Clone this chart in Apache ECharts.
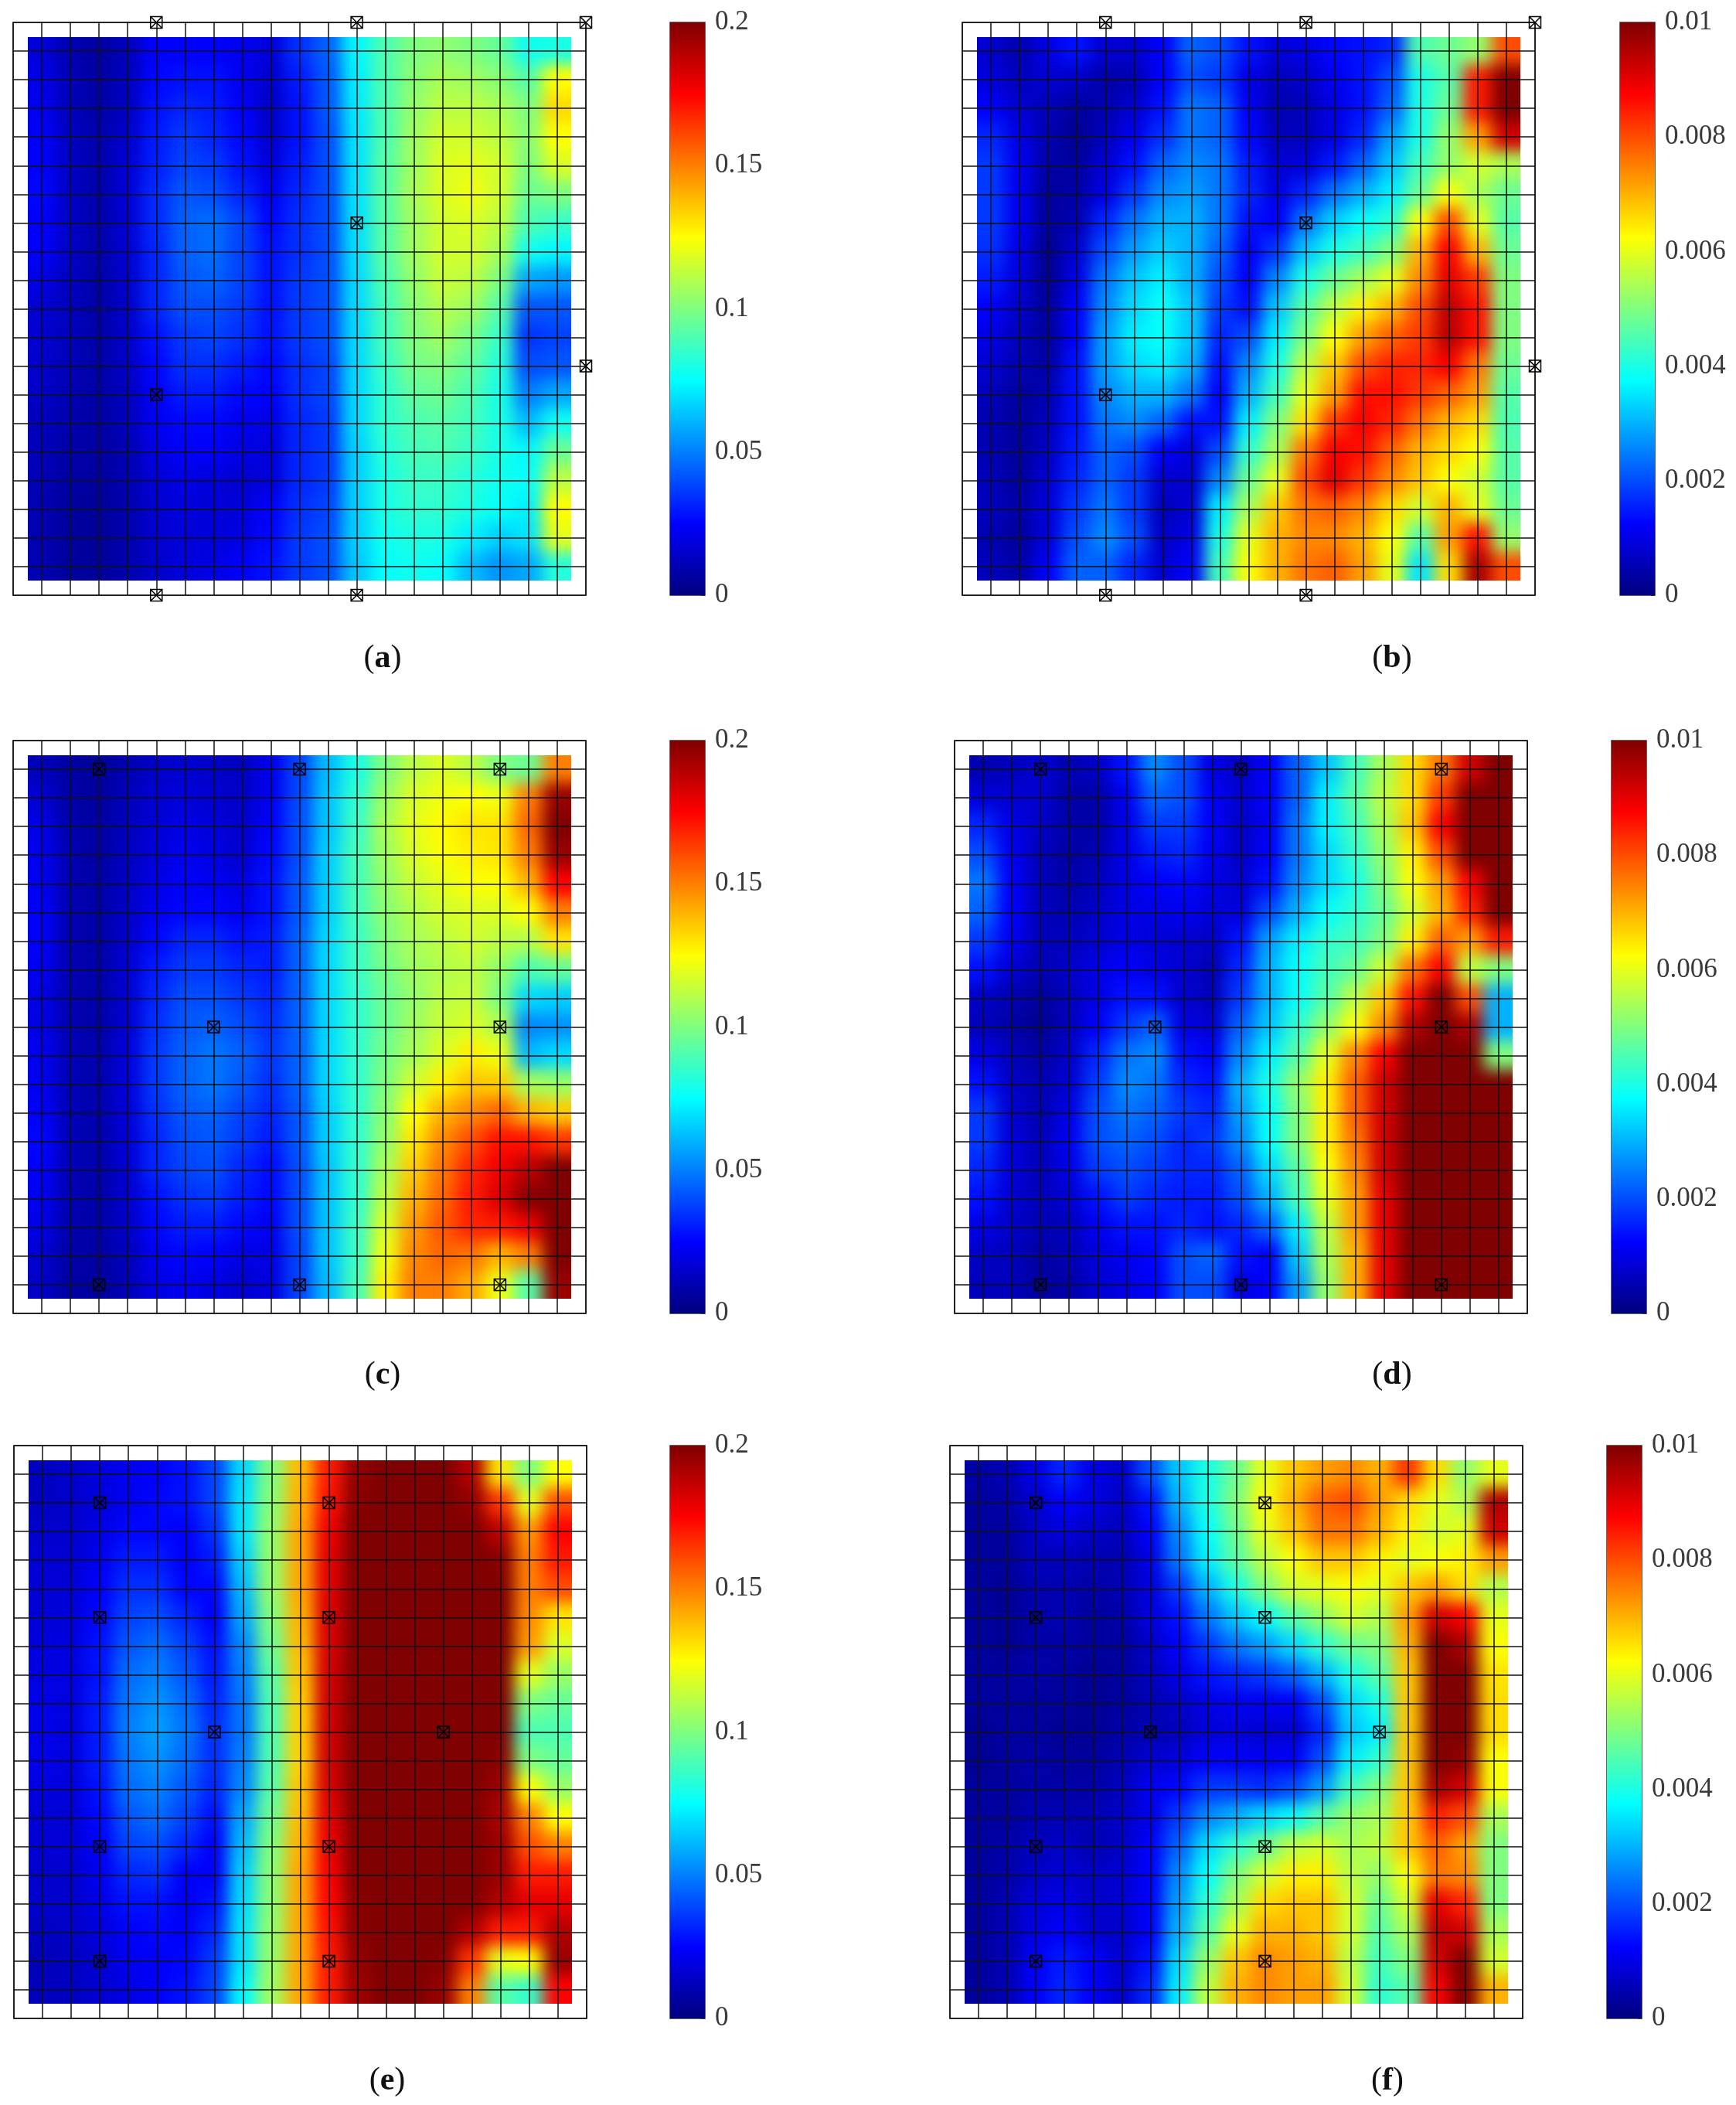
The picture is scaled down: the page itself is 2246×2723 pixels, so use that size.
<!DOCTYPE html>
<html>
<head>
<meta charset="utf-8">
<title>panels</title>
<style>
html,body{margin:0;padding:0;background:#fff;}
#page{position:relative;width:2246px;height:2723px;overflow:hidden;}
.heat{position:absolute;overflow:hidden;}
.heatInner{position:absolute;filter:blur(10px);}
#overlay{position:absolute;left:0;top:0;width:2246px;height:2723px;z-index:2;}
</style>
<script src="https://cdn.jsdelivr.net/npm/echarts@6/dist/echarts.min.js"></script>
</head>
<body>
<div id="page"><div id="overlay"></div></div>
<script>
// a, c, e are in units of 0.001 (colorbar 0..0.2), b, d, f in units of 0.0001 (colorbar 0..0.01)
// one row per mesh line from the top, one value per mesh line from the left
var valuesA = [
[18,10,7,12,25,25,25,22,18,34,44,74,90,100,103,100,95,78,80],
[20,11,7,12,26,28,28,22,15,30,42,72,90,102,108,106,102,92,125],
[22,12,8,13,28,32,30,24,14,28,42,71,90,104,112,112,108,100,132],
[24,13,9,15,30,36,32,26,15,28,40,70,90,106,116,116,112,102,125],
[24,13,9,16,31,38,36,28,18,30,40,70,92,106,118,120,116,100,118],
[26,14,9,17,33,42,40,32,22,32,40,70,92,108,118,122,116,96,100],
[24,14,9,16,33,44,46,38,26,34,40,69,92,106,116,118,112,90,86],
[24,14,9,16,32,44,46,38,28,34,40,69,92,106,116,116,108,78,74],
[20,13,8,15,32,42,44,38,28,36,40,68,90,104,114,112,100,58,55],
[16,12,8,14,32,40,40,36,28,36,40,68,88,102,110,106,92,42,42],
[16,12,8,14,28,36,38,34,28,36,40,68,88,100,106,98,86,35,38],
[15,11,8,14,26,34,34,30,26,34,38,68,86,98,100,94,82,40,42],
[14,10,8,12,24,30,30,26,24,34,38,68,84,94,96,90,80,50,58],
[12,9,7,12,22,26,26,22,20,32,36,68,84,90,92,88,80,62,78],
[12,8,7,10,20,24,24,20,18,32,36,66,82,88,90,86,80,74,96],
[11,7,6,10,17,20,18,16,18,32,36,66,80,86,86,82,78,76,112],
[10,6,5,9,16,18,17,18,24,34,38,66,80,84,84,80,76,72,125],
[10,6,5,9,16,18,18,20,26,36,40,66,78,80,80,72,66,70,120],
[10,6,5,9,15,18,20,24,28,36,40,64,76,78,76,62,54,58,82]
];
var valuesB = [
[8,5,10,14,8,8,12,22,20,14,9,10,13,14,16,45,48,52,80],
[9,6,8,7,4,5,12,20,18,10,6,7,11,14,20,40,46,85,100],
[12,8,6,3,5,8,14,24,22,12,5,6,10,14,22,40,48,85,100],
[16,10,5,2,6,11,17,24,22,13,6,6,10,16,28,40,52,72,92],
[18,11,4,3,8,14,22,26,24,15,8,9,15,22,32,44,52,58,54],
[18,11,3,4,10,18,26,28,24,16,10,16,24,30,36,48,62,54,48],
[18,11,3,5,16,24,30,30,24,14,12,24,33,38,42,62,80,60,46],
[17,10,2,8,20,28,33,30,22,12,18,32,40,44,50,70,88,70,48],
[15,9,2,10,24,32,36,30,20,12,26,40,48,54,60,74,90,82,50],
[12,7,3,12,26,34,38,32,18,14,32,46,56,64,70,80,94,86,50],
[10,6,3,12,28,36,38,32,16,20,36,50,62,72,78,82,94,86,50],
[8,5,4,14,28,34,36,30,14,26,40,56,68,80,84,84,88,76,48],
[6,3,5,14,26,30,30,24,12,30,44,60,72,86,86,82,78,72,46],
[5,3,6,14,24,26,22,14,14,36,50,66,82,88,84,76,70,66,45],
[5,3,7,15,22,20,12,9,20,42,54,76,88,86,78,70,66,62,46],
[6,3,8,16,22,18,8,8,26,48,60,80,90,82,74,68,62,58,46],
[6,4,9,18,24,18,6,8,36,54,68,76,78,74,66,58,70,60,48],
[5,3,9,20,26,20,7,10,40,60,70,74,74,70,62,46,72,86,52],
[6,4,12,22,22,16,8,12,44,62,70,76,78,72,60,35,66,96,80]
];
var valuesC = [
[12,7,5,10,14,16,14,13,21,38,62,80,100,112,118,112,100,96,150],
[16,8,6,12,16,18,16,14,22,39,64,84,105,118,122,125,122,150,195],
[20,9,7,12,17,20,18,15,24,40,64,86,108,120,126,130,130,155,200],
[22,10,7,13,18,22,20,16,26,40,66,88,106,118,124,128,130,150,195],
[22,10,8,13,20,24,22,20,28,42,66,88,104,114,120,124,125,140,175],
[24,10,8,14,22,26,26,22,28,42,66,88,102,110,116,118,118,125,150],
[24,10,8,15,26,32,32,28,30,44,68,86,100,108,112,116,112,110,130],
[22,10,8,16,30,36,36,32,30,44,68,86,98,106,110,112,104,90,95],
[20,10,8,16,32,40,40,36,32,44,68,84,96,104,112,114,100,68,66],
[20,10,8,16,34,42,44,40,34,44,68,84,96,106,114,118,110,52,54],
[22,11,9,18,36,44,48,44,36,44,68,84,98,108,118,128,122,62,68],
[22,11,9,18,36,44,48,42,34,44,68,84,100,116,128,136,135,108,105],
[24,11,9,17,34,42,44,38,32,42,66,84,102,125,140,148,155,140,135],
[26,11,9,17,32,40,42,36,30,42,66,84,104,130,148,160,172,172,165],
[24,11,9,16,32,38,40,32,27,40,64,84,108,135,152,168,178,188,200],
[22,10,8,15,28,34,36,30,26,40,64,84,112,140,155,170,182,198,200],
[20,9,8,14,26,30,30,26,22,40,64,86,118,145,158,168,170,178,200],
[16,8,7,12,22,26,24,20,20,38,64,86,122,148,155,152,140,150,200],
[14,7,6,11,20,22,20,16,19,38,62,88,128,150,150,142,122,92,195]
];
var valuesD = [
[5,6,8,5,7,14,26,20,10,7,12,22,32,44,54,66,76,92,100],
[9,8,8,4,4,11,22,20,12,8,12,22,36,46,56,66,82,100,100],
[16,10,7,4,4,10,18,18,12,7,11,24,36,44,54,68,88,100,100],
[20,11,6,4,5,10,15,16,11,7,12,24,34,42,52,64,80,100,100],
[24,12,6,4,6,10,12,13,10,8,14,26,34,40,50,62,72,88,100],
[22,12,6,5,7,10,10,11,9,9,20,30,38,42,48,58,70,84,100],
[18,11,6,6,8,10,9,8,7,14,28,36,42,44,50,64,78,72,85],
[14,8,5,7,10,12,10,8,5,16,30,38,44,48,58,76,88,56,50],
[7,5,3,6,10,14,14,8,6,18,30,38,46,56,68,86,100,80,30],
[6,4,2,6,12,18,22,10,8,22,32,42,52,62,74,95,100,96,30],
[10,6,4,7,16,24,26,14,12,26,36,46,60,74,88,100,100,100,50],
[14,7,5,8,18,26,24,16,14,30,40,52,64,78,92,100,100,100,100],
[18,8,5,10,20,24,22,18,16,28,38,50,64,78,92,100,100,100,100],
[18,9,6,11,20,22,20,16,18,26,38,50,64,76,92,100,100,100,100],
[16,9,6,10,18,20,18,16,16,22,34,46,62,74,92,100,100,100,100],
[14,8,6,8,14,18,16,15,15,20,30,44,60,72,90,100,100,100,100],
[10,7,5,6,11,14,14,16,14,16,22,36,56,72,90,100,100,100,100],
[7,6,4,5,9,11,13,20,22,14,12,32,54,70,90,100,100,100,100],
[6,6,3,4,8,10,12,20,20,10,12,28,52,70,90,100,100,100,100]
];
var valuesE = [
[13,15,18,22,24,28,38,68,100,138,170,196,200,200,200,190,130,100,125],
[13,15,18,22,26,28,38,70,102,140,172,198,200,200,200,196,165,120,160],
[15,15,20,26,26,24,34,70,104,142,178,200,200,200,200,200,188,145,175],
[17,16,22,30,30,24,30,66,104,142,180,200,200,200,200,200,198,150,170],
[17,17,24,34,34,26,26,62,104,142,180,200,200,200,200,200,200,150,160],
[17,18,26,38,40,32,24,58,100,140,182,200,200,200,200,200,200,148,130],
[19,19,28,42,46,38,28,52,96,138,182,200,200,200,200,200,200,145,118],
[19,19,28,46,50,42,30,50,92,136,184,200,200,200,200,200,200,120,105],
[21,19,30,48,54,46,32,48,90,134,184,200,200,200,200,200,200,100,95],
[21,19,30,50,56,48,34,48,90,134,184,200,200,200,200,200,200,90,90],
[21,19,30,48,54,46,34,50,90,134,184,200,200,200,200,200,198,100,95],
[19,18,28,46,50,42,32,52,92,136,182,200,200,200,200,200,195,125,105],
[17,17,26,42,46,38,28,58,96,138,180,200,200,200,200,200,192,150,125],
[17,17,24,38,40,32,24,62,100,140,178,200,200,200,200,200,195,160,150],
[15,15,22,32,34,24,24,66,102,142,176,200,200,200,200,200,195,170,170],
[15,15,20,28,28,22,28,68,102,142,174,198,200,200,200,200,190,180,180],
[13,14,18,24,26,24,32,70,104,142,172,198,200,200,200,190,170,170,190],
[11,13,16,22,24,26,36,70,104,142,170,196,200,200,198,165,120,125,195],
[12,13,16,20,24,28,38,74,106,142,170,194,200,200,195,150,92,85,175]
];
var valuesF = [
[4,5,10,16,10,8,20,32,40,48,60,68,72,74,70,82,66,52,60],
[3,4,8,12,10,7,14,30,40,50,62,70,78,80,72,66,60,55,95],
[3,3,7,9,7,6,12,26,38,48,60,68,76,76,70,64,58,60,92],
[3,3,6,6,5,5,10,24,36,46,56,62,68,68,64,60,62,64,72],
[3,2,5,5,4,5,9,18,30,40,50,58,60,62,60,68,72,66,55],
[3,2,4,5,3,4,9,14,24,32,38,46,52,58,55,72,92,88,60],
[3,2,4,4,3,3,7,12,18,24,28,34,42,48,50,70,100,96,62],
[3,3,4,3,2,3,6,10,14,16,18,22,30,40,46,68,100,100,65],
[3,3,3,3,2,3,5,7,10,11,11,12,20,34,40,68,100,100,66],
[2,3,3,2,2,4,5,6,9,9,8,8,16,32,36,68,100,100,66],
[2,3,4,3,3,5,8,9,12,12,11,12,20,36,42,68,100,98,62],
[3,3,4,4,4,6,11,13,18,18,17,20,28,44,50,68,96,92,62],
[3,3,5,5,5,7,10,18,26,30,34,38,46,52,54,68,84,80,54],
[3,4,6,7,5,7,12,22,34,42,48,56,58,54,56,68,78,72,50],
[3,4,7,8,7,8,12,26,38,50,58,64,64,56,52,62,76,74,50],
[3,5,9,10,7,8,12,28,42,54,66,68,68,58,48,58,90,84,50],
[3,5,10,12,8,7,12,30,46,60,70,70,68,58,46,54,94,92,54],
[3,5,12,15,12,8,14,34,52,68,74,72,70,56,44,50,92,100,58],
[3,5,12,16,12,8,16,36,56,70,74,72,72,58,42,46,88,100,70]
];

// sensor positions, mesh index [x, y] with y counted from the top
var sensorsAB = [[5,0],[12,0],[20,0],[12,7],[20,12],[5,13],[5,20],[12,20]];
var sensorsCD = [[3,1],[10,1],[17,1],[7,10],[17,10],[3,19],[10,19],[17,19]];
var sensorsEF = [[3,2],[11,2],[3,6],[11,6],[7,10],[15,10],[3,14],[11,14],[3,18],[11,18]];

var letters = ['a','b','c','d','e','f'];

var jet = ['#00007f','#0000ff','#007fff','#00ffff','#7fff7f','#ffff00','#ff7f00','#ff0000','#7f0000'];
var serif = '"Liberation Serif"';
var cell = 37.05;
var frameSize = cell*20;
var barW = 45;

var panels = [
{values:valuesA,unit:0.001, max:0.2, interval:0.05, sensors:sensorsAB, x:17,  y:29,  barX:867,  labelX:490,  labelY:826},
{values:valuesB,unit:0.0001,max:0.01,interval:0.002,sensors:sensorsAB, x:1245,y:29,  barX:2096, labelX:1796, labelY:826},
{values:valuesC,unit:0.001, max:0.2, interval:0.05, sensors:sensorsCD, x:17,  y:958, barX:867,  labelX:490,  labelY:1753},
{values:valuesD,unit:0.0001,max:0.01,interval:0.002,sensors:sensorsCD, x:1235,y:958, barX:2085, labelX:1796, labelY:1753},
{values:valuesE,unit:0.001, max:0.2, interval:0.05, sensors:sensorsEF, x:18,  y:1870,barX:867,  labelX:496,  labelY:2666},
{values:valuesF,unit:0.0001,max:0.01,interval:0.002,sensors:sensorsEF, x:1229,y:1870,barX:2079, labelX:1790, labelY:2666}
];

var page = document.getElementById('page');

// field layer: one blurred heatmap per panel, one extra cell each side so the blur does not fade at the clip
panels.forEach(function(p){
  var box = document.createElement('div');
  box.className = 'heat';
  box.style.left = (p.x+cell/2)+'px';
  box.style.top = (p.y+cell/2)+'px';
  box.style.width = (cell*19)+'px';
  box.style.height = (cell*19)+'px';
  var inner = document.createElement('div');
  inner.className = 'heatInner';
  inner.style.left = (-cell)+'px';
  inner.style.top = (-cell)+'px';
  inner.style.width = (cell*21)+'px';
  inner.style.height = (cell*21)+'px';
  box.appendChild(inner);
  page.appendChild(box);

  var cats = [];
  for(var i=0;i<21;i++) cats.push(i);
  var data = [];
  for(var r=0;r<21;r++){
    for(var c=0;c<21;c++){
      var rr = Math.min(18,Math.max(0,r-1));
      var cc = Math.min(18,Math.max(0,c-1));
      data.push([c,r,p.values[rr][cc]*p.unit]);
    }
  }
  var chart = echarts.init(inner);
  chart.setOption({
    animation:false,
    grid:{left:0,right:0,top:0,bottom:0},
    xAxis:{type:'category',data:cats,show:false},
    yAxis:{type:'category',data:cats,show:false,inverse:true},
    visualMap:{show:false,min:0,max:p.max,inRange:{color:jet}},
    series:[{type:'heatmap',data:data,progressive:0,itemStyle:{borderWidth:0}}]
  });
});

// everything else: mesh, sensors, colorbars, panel letters
var grids=[],xAxes=[],yAxes=[],series=[],titles=[];
var stops = jet.map(function(col,i){return {offset:i/8,color:col};});

panels.forEach(function(p,i){
  var g = grids.length;
  grids.push({left:p.x,top:p.y,width:frameSize,height:frameSize,show:true,borderColor:'#5a5a5a',borderWidth:2,backgroundColor:'transparent'});
  xAxes.push({type:'value',gridIndex:g,min:0,max:20,interval:1,axisLine:{show:false},axisTick:{show:false},axisLabel:{show:false},splitLine:{show:true,lineStyle:{color:'#111',width:1.5}}});
  yAxes.push({type:'value',gridIndex:g,min:0,max:20,interval:1,inverse:true,axisLine:{show:false},axisTick:{show:false},axisLabel:{show:false},splitLine:{show:true,lineStyle:{color:'#111',width:1.5}}});
  series.push({
    type:'scatter',xAxisIndex:g,yAxisIndex:g,data:p.sensors,clip:false,z:5,
    symbol:'path://M0 0H10V10H0ZM0 0L10 10M0 10L10 0',symbolSize:15,
    itemStyle:{color:'rgba(0,0,0,0)',borderColor:'#000',borderWidth:1.5,opacity:1}
  });

  var b = grids.length;
  grids.push({left:p.barX,top:p.y,width:barW,height:frameSize,show:true,borderColor:'#333',borderWidth:1.5,backgroundColor:'transparent'});
  xAxes.push({type:'category',gridIndex:b,data:['bar'],show:false});
  yAxes.push({type:'value',gridIndex:b,min:0,max:p.max,interval:p.interval,position:'right',
    axisLine:{show:false},axisTick:{show:true,inside:true,length:5,lineStyle:{color:'#333',width:1}},
    splitLine:{show:false},
    axisLabel:{show:true,margin:13,color:'#3a3a3a',fontSize:35,fontFamily:serif,showMinLabel:true,showMaxLabel:true,hideOverlap:false,
      formatter:function(v){return String(+v.toFixed(3));}}});
  series.push({type:'bar',xAxisIndex:b,yAxisIndex:b,data:[p.max],barWidth:'100%',silent:true,
    itemStyle:{color:new echarts.graphic.LinearGradient(0,1,0,0,stops)}});

  titles.push({text:'{p|(}{b|'+letters[i]+'}{p|)}',left:p.labelX,top:p.labelY,textAlign:'center',
    textStyle:{fontWeight:'normal',rich:{p:{fontFamily:serif,fontSize:42,fontWeight:'normal',color:'#111'},b:{fontFamily:serif,fontSize:42,fontWeight:'bold',color:'#111'}}}});
});

var overlay = echarts.init(document.getElementById('overlay'));
overlay.setOption({animation:false,title:titles,grid:grids,xAxis:xAxes,yAxis:yAxes,series:series});
</script>
</body>
</html>
